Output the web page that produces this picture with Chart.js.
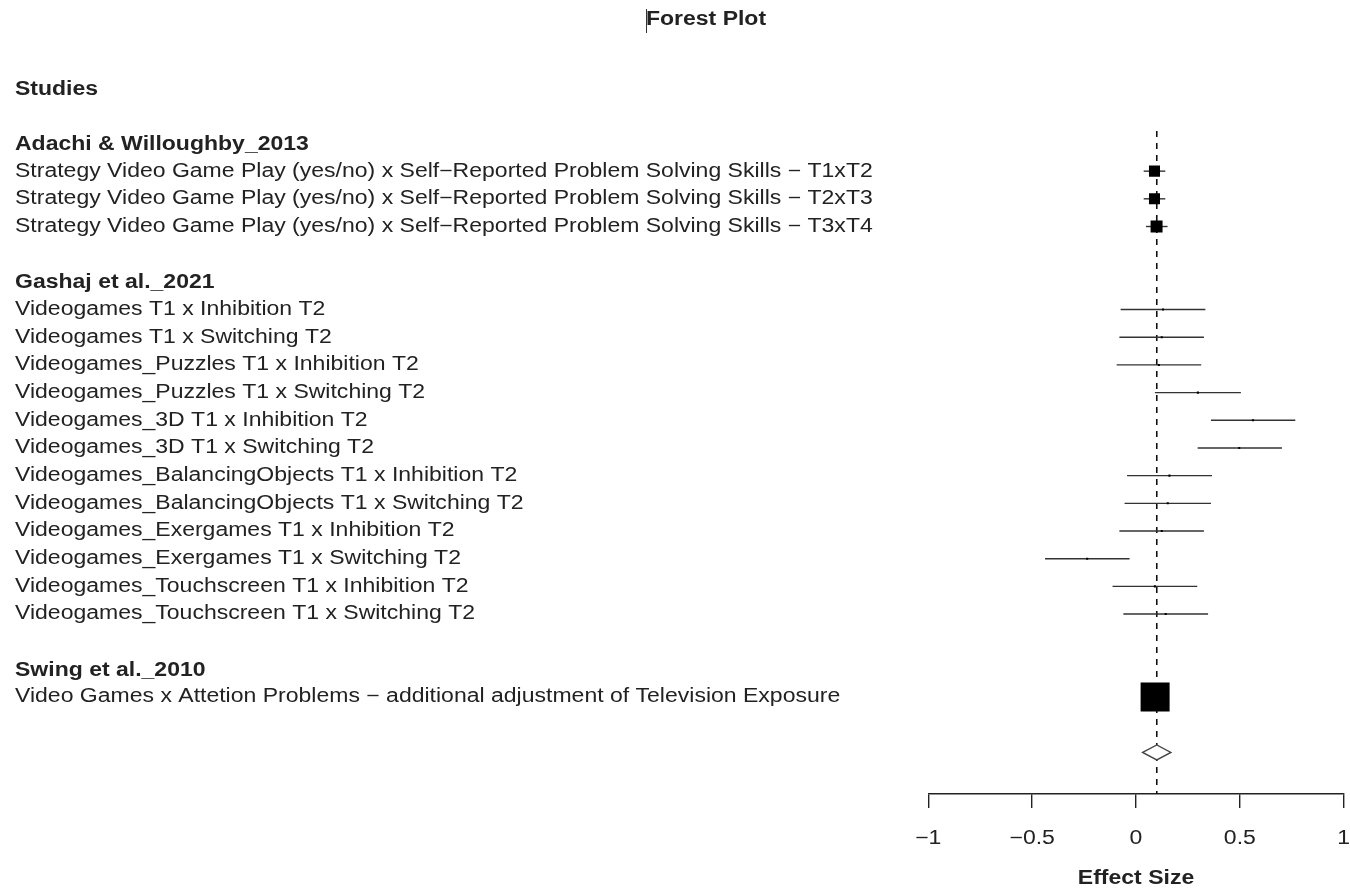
<!DOCTYPE html>
<html><head><meta charset="utf-8">
<script src="https://cdn.jsdelivr.net/npm/chart.js@4/dist/chart.umd.min.js"></script>
<style>html,body{margin:0;padding:0;background:#fff}canvas{display:block}</style>
</head><body>
<canvas id="c" width="1350" height="890"></canvas>
<script>
// ---------------- data ----------------
const chartTitle = "Forest Plot";
const columnHeader = "Studies";
const axisTitle = "Effect Size";
const studies = ["Adachi & Willoughby_2013", "Gashaj et al._2021", "Swing et al._2010"];
const comparisons = [
  "Strategy Video Game Play (yes/no) x Self\u2212Reported Problem Solving Skills \u2212 T1xT2",
  "Strategy Video Game Play (yes/no) x Self\u2212Reported Problem Solving Skills \u2212 T2xT3",
  "Strategy Video Game Play (yes/no) x Self\u2212Reported Problem Solving Skills \u2212 T3xT4",
  "Videogames T1 x Inhibition T2",
  "Videogames T1 x Switching T2",
  "Videogames_Puzzles T1 x Inhibition T2",
  "Videogames_Puzzles T1 x Switching T2",
  "Videogames_3D T1 x Inhibition T2",
  "Videogames_3D T1 x Switching T2",
  "Videogames_BalancingObjects T1 x Inhibition T2",
  "Videogames_BalancingObjects T1 x Switching T2",
  "Videogames_Exergames T1 x Inhibition T2",
  "Videogames_Exergames T1 x Switching T2",
  "Videogames_Touchscreen T1 x Inhibition T2",
  "Videogames_Touchscreen T1 x Switching T2",
  "Video Games x Attetion Problems \u2212 additional adjustment of Television Exposure"
];
const comparisonStudy = [0,0,0, 1,1,1,1,1,1,1,1,1,1,1,1, 2];
const estimates = [0.089,0.089,0.099, 0.130,0.124,0.110,0.298,0.563,0.497,0.161,0.153,0.124,-0.235,0.091,0.143, 0.092];
const ciLower   = [0.037,0.037,0.048, -0.074,-0.080,-0.093,0.091,0.361,0.297,-0.043,-0.055,-0.080,-0.438,-0.113,-0.061, 0.075];
const ciUpper   = [0.141,0.141,0.152, 0.334,0.327,0.314,0.505,0.767,0.703,0.366,0.361,0.327,-0.031,0.295,0.347, 0.110];
const weights   = [5.8,5.8,6.8, 0.2,0.2,0.2,0.2,0.2,0.2,0.2,0.2,0.2,0.2,0.2,0.2, 40];
const summaryEstimate = 0.10;
const summaryLower = 0.032;
const summaryUpper = 0.168;
const xTicks = [-1, -0.5, 0, 0.5, 1];
const xTickLabels = ["\u22121", "\u22120.5", "0", "0.5", "1"];

// ---------------- row layout ----------------
const rowPos = [];
const headerPos = [];
let r = -1;
studies.forEach((s, si) => {
  headerPos.push(r); r++;
  comparisons.forEach((c, ci) => { if (comparisonStudy[ci] === si) { rowPos[ci] = r; r++; } });
  r++;
});
const summaryPos = r;
const columnHeaderPos = headerPos[0] - 2;

const maxW = Math.max(...weights);
const radii = weights.map(w => (29 * Math.sqrt(w / maxW)) / (2 * Math.SQRT1_2));

const TEXT = '#222';
const FONT = '"Liberation Sans", Arial, Helvetica, sans-serif';
const FS = 19.5;
const SX = 1.18; // horizontal text stretch seen in the reference

function sText(ctx, text, x, y, align) {
  ctx.save();
  ctx.translate(x, y);
  ctx.scale(SX, 1);
  ctx.textAlign = align;
  ctx.fillText(text, 0, 0);
  ctx.restore();
}

const forestPlugin = {
  id: 'forest',
  beforeDatasetsDraw(chart) {
    const ctx = chart.ctx, xs = chart.scales.x, ys = chart.scales.y, a = chart.chartArea;
    ctx.save();
    // reference dashed line
    ctx.strokeStyle = '#111'; ctx.lineWidth = 1.6; ctx.setLineDash([6, 6]);
    const rx = xs.getPixelForValue(summaryEstimate);
    ctx.beginPath(); ctx.moveTo(rx, a.top); ctx.lineTo(rx, a.bottom); ctx.stroke();
    ctx.setLineDash([]);
    // CI lines
    ctx.strokeStyle = '#333'; ctx.lineWidth = 1.4;
    estimates.forEach((e, i) => {
      const y = ys.getPixelForValue(rowPos[i]);
      ctx.beginPath();
      ctx.moveTo(xs.getPixelForValue(ciLower[i]), y);
      ctx.lineTo(xs.getPixelForValue(ciUpper[i]), y);
      ctx.stroke();
    });
    // summary diamond
    const dy = ys.getPixelForValue(summaryPos), h = 7.5;
    ctx.fillStyle = '#fff'; ctx.strokeStyle = '#444'; ctx.lineWidth = 1.4;
    ctx.beginPath();
    ctx.moveTo(xs.getPixelForValue(summaryLower), dy);
    ctx.lineTo(xs.getPixelForValue(summaryEstimate), dy - h);
    ctx.lineTo(xs.getPixelForValue(summaryUpper), dy);
    ctx.lineTo(xs.getPixelForValue(summaryEstimate), dy + h);
    ctx.closePath(); ctx.fill(); ctx.stroke();
    ctx.restore();
  },
  afterDraw(chart) {
    const ctx = chart.ctx, xs = chart.scales.x, ys = chart.scales.y, a = chart.chartArea;
    ctx.save();
    ctx.fillStyle = TEXT; ctx.textBaseline = 'middle';
    // title
    ctx.font = 'bold ' + FS + 'px ' + FONT;
    sText(ctx, chartTitle, 706, 20, 'center');
    ctx.strokeStyle = '#333'; ctx.lineWidth = 1;
    ctx.beginPath(); ctx.moveTo(646.5, 9); ctx.lineTo(646.5, 33); ctx.stroke();
    sText(ctx, columnHeader, 15, ys.getPixelForValue(columnHeaderPos) + 2, 'left');
    studies.forEach((s, si) => sText(ctx, s, 15, ys.getPixelForValue(headerPos[si]) + 1, 'left'));
    ctx.font = FS + 'px ' + FONT;
    comparisons.forEach((c, ci) => sText(ctx, c, 15, ys.getPixelForValue(rowPos[ci]), 'left'));
    // axis tick labels and title
    xTicks.forEach((v, i) => sText(ctx, xTickLabels[i], xs.getPixelForValue(v), a.bottom + 45, 'center'));
    ctx.font = 'bold ' + FS + 'px ' + FONT;
    sText(ctx, axisTitle, (a.left + a.right) / 2, a.bottom + 85, 'center');
    ctx.restore();
  }
};

new Chart(document.getElementById('c'), {
  type: 'scatter',
  data: {
    datasets: [{
      data: estimates.map((e, i) => ({ x: e, y: rowPos[i] })),
      pointStyle: 'rect',
      pointRadius: radii,
      backgroundColor: '#000',
      borderColor: '#000',
      borderWidth: 0
    }]
  },
  options: {
    responsive: false,
    devicePixelRatio: 1,
    animation: false,
    events: [],
    layout: { autoPadding: false, padding: { left: 928.3, right: 6.3, top: 131, bottom: 0 } },
    plugins: { legend: { display: false }, tooltip: { enabled: false }, title: { display: false } },
    scales: {
      x: {
        type: 'linear', min: -1, max: 1,
        afterBuildTicks: s => { s.ticks = xTicks.map(v => ({ value: v })); },
        afterFit: s => { s.height = 96; s.paddingLeft = 0; s.paddingRight = 0; },
        grid: { drawOnChartArea: false, drawTicks: true, tickLength: 14, color: '#222', lineWidth: 1.4 },
        border: { display: true, color: '#222', width: 1.4 },
        ticks: { display: false },
        title: { display: false }
      },
      y: { type: 'linear', reverse: true, min: -1.45, max: 22.5, display: false }
    }
  },
  plugins: [forestPlugin]
});
</script>
</body></html>
